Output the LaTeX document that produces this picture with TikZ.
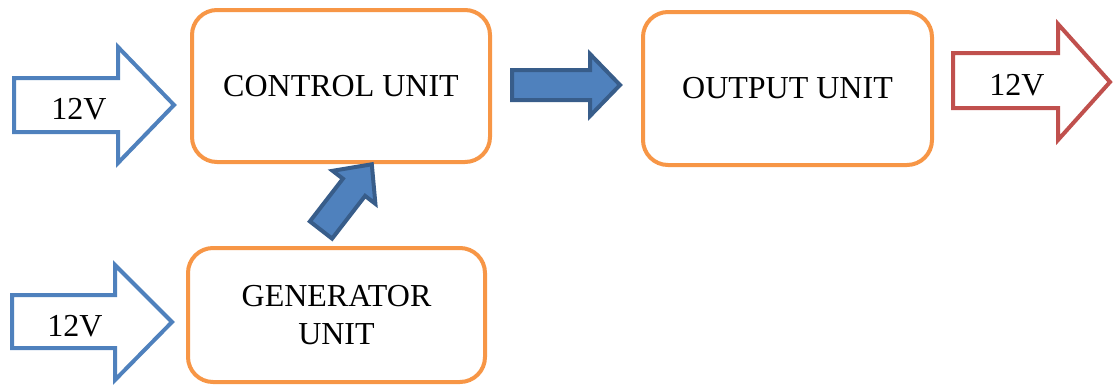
\documentclass[tikz,border=0pt]{standalone}
\usepackage{fontspec}
\setmainfont{Liberation Serif}
\definecolor{boxorange}{HTML}{F79646}
\definecolor{arrblue}{HTML}{4F81BD}
\definecolor{arrdark}{HTML}{385D8A}
\definecolor{arrred}{HTML}{C0504D}
\tikzset{
  unitbox/.style={draw=boxorange, line width=4pt, rounded corners=25pt, fill=white,
    font=\fontsize{32}{38}\selectfont, align=center, inner sep=0pt},
  inarrow/.style={draw=arrblue, line width=4pt, fill=white},
  outarrow/.style={draw=arrred, line width=4pt, fill=white},
  linkarrow/.style={draw=arrdark, line width=4pt, fill=arrblue, line join=miter},
  lbl/.style={font=\fontsize{32}{38}\selectfont, inner sep=0pt}
}
\begin{document}
\begin{tikzpicture}[x=1pt,y=-1pt]
\useasboundingbox (0,0) rectangle (1114,384);
% boxes
\node[unitbox, minimum width=298pt, minimum height=152pt] (control) at (341,86) {CONTROL UNIT};
\node[unitbox, minimum width=289pt, minimum height=153pt] (output) at (787.5,88.5) {OUTPUT UNIT};
\node[unitbox, minimum width=297pt, minimum height=134pt] (gen) at (336.5,315) {GENERATOR\\UNIT};
% input arrow 1
\draw[inarrow] (14,78) -- (118,78) -- (118,47) -- (174,105) -- (118,163) -- (118,132) -- (14,132) -- cycle;
\node[lbl] (in1) at (79,109) {12V};
% input arrow 2
\draw[inarrow] (12,295) -- (115,295) -- (115,265) -- (172,322) -- (115,380) -- (115,348) -- (12,348) -- cycle;
\node[lbl] (in2) at (75,326) {12V};
% output arrow
\draw[outarrow] (953,53) -- (1058,53) -- (1058,24) -- (1110,82) -- (1058,140) -- (1058,108) -- (953,108) -- cycle;
\node[lbl] (out) at (1017,85) {12V};
% control -> output
\draw[linkarrow] (512,70) -- (590,70) -- (590,54) -- (620,85) -- (590,116) -- (590,100) -- (512,100) -- cycle;
% generator -> control
\draw[linkarrow] (309.9,221.4) -- (342.9,178.7) -- (332.6,170.8) -- (371.8,164.3) -- (375.4,203.8) -- (365.1,195.9) -- (332.1,238.6) -- cycle;
\end{tikzpicture}
\end{document}
